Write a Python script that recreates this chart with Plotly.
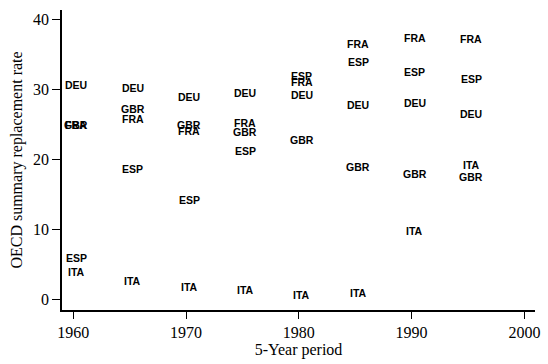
import plotly.graph_objects as go

years = [1960, 1965, 1970, 1975, 1980, 1985, 1990, 1995]
countries = ["DEU", "GBR", "FRA", "ESP", "ITA"]
DEU = [30.7, 30.3, 28.9, 29.6, 29.3, 27.8, 28.1, 26.5]
GBR = [25.0, 27.3, 25.0, 23.9, 22.8, 18.9, 18.0, 17.5]
FRA = [25.0, 25.8, 24.1, 25.2, 31.1, 36.6, 37.4, 37.2]
ESP = [6.0, 18.7, 14.2, 21.3, 32.0, 34.0, 32.6, 31.5]
ITA = [3.9, 2.7, 1.8, 1.4, 0.7, 1.0, 9.8, 19.2]
series = {"DEU": DEU, "GBR": GBR, "FRA": FRA, "ESP": ESP, "ITA": ITA}

x_ticks = [1960, 1970, 1980, 1990, 2000]
y_ticks = [0, 10, 20, 30, 40]

label_font = dict(family="Liberation Sans, Arial, sans-serif", size=10.5,
                  color="black", weight="bold")

fig = go.Figure()
# invisible trace so the axes exist; labels drawn as data-anchored annotations
for c in countries:
    fig.add_trace(go.Scatter(x=years, y=series[c], mode="markers",
                             marker=dict(opacity=0), showlegend=False,
                             hoverinfo="skip"))
    for xv, yv in zip(years, series[c]):
        fig.add_annotation(x=xv, y=yv, xref="x", yref="y", text=c,
                           showarrow=False, xanchor="center", yanchor="middle",
                           xshift=3, font=label_font)

serif = "Liberation Serif, Times New Roman, serif"
fig.update_layout(
    width=548, height=364,
    margin=dict(l=62, r=8, t=10, b=51),
    paper_bgcolor="white", plot_bgcolor="white",
    font=dict(family=serif, size=16, color="black"),
    xaxis=dict(range=[1959.0, 2000.94], tickvals=x_ticks,
               ticktext=[str(v) for v in x_ticks],
               showgrid=False, zeroline=False, showline=True,
               linecolor="black", linewidth=1.5, ticks="outside",
               ticklen=7, tickwidth=1.3, tickcolor="black",
               tickfont=dict(family=serif, size=16),
               title=dict(text="5-Year period", standoff=4,
                          font=dict(family=serif, size=16))),
    yaxis=dict(range=[-1.5, 41.4], tickvals=y_ticks,
               ticktext=[str(v) for v in y_ticks],
               showgrid=False, zeroline=False, showline=True,
               linecolor="black", linewidth=1.5, ticks="outside",
               ticklen=8, tickwidth=1.3, tickcolor="black",
               tickfont=dict(family=serif, size=16),
               title=dict(text="OECD summary replacement rate", standoff=6,
                          font=dict(family=serif, size=16))),
)
fig.write_html("out.html")
